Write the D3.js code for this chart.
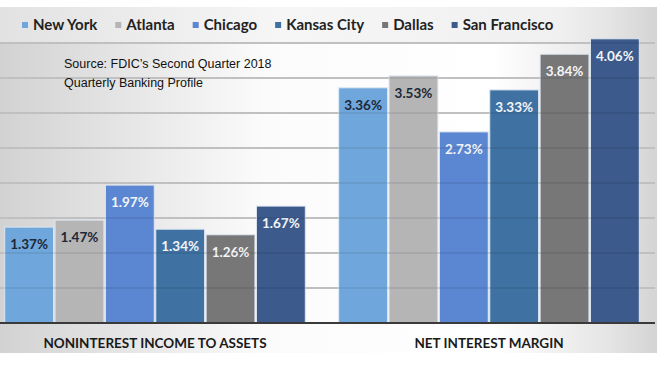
<!DOCTYPE html>
<html>
<head>
<meta charset="utf-8">
<script src="https://cdn.jsdelivr.net/npm/d3@7"></script>
<style>
  body { margin: 0; background: #fff; }
  svg { display: block; }
</style>
</head>
<body>
<div id="chart"></div>
<script>
const cities = ['New York', 'Atlanta', 'Chicago', 'Kansas City', 'Dallas', 'San Francisco'];
const groups = ['NONINTEREST INCOME TO ASSETS', 'NET INTEREST MARGIN'];
const nonInterest = [1.37, 1.47, 1.97, 1.34, 1.26, 1.67];
const netMargin = [3.36, 3.53, 2.73, 3.33, 3.84, 4.06];
const gridTicks = [0.5, 1, 1.5, 2, 2.5, 3, 3.5, 4];
const sourceLines = ['Source: FDIC\u2019s Second Quarter 2018', 'Quarterly Banking Profile'];

const colors = ['#6fa7dc', '#b5b5b5', '#5b86d1', '#3f72a2', '#777777', '#3c5a8b'];
const labelColors = ['#1c2836', '#1c2836', '#f2f4f8', '#f2f4f8', '#f2f4f8', '#f2f4f8'];

const w = 663;
const h = 365;

const svg = d3.select('#chart').append('svg').attr('width', w).attr('height', h);

// background gradient
const defs = svg.append('defs');
const bg = defs.append('linearGradient').attr('id', 'bg').attr('x1', 0).attr('x2', 1).attr('y1', 0).attr('y2', 0);
bg.append('stop').attr('offset', '0%').attr('stop-color', '#d2d2d2');
bg.append('stop').attr('offset', '40%').attr('stop-color', '#fbfbfb');
bg.append('stop').attr('offset', '75%').attr('stop-color', '#ffffff');
bg.append('stop').attr('offset', '92%').attr('stop-color', '#e6e6e6');
bg.append('stop').attr('offset', '100%').attr('stop-color', '#d4d4d4');

const lg = defs.append('linearGradient').attr('id', 'lg').attr('x1', 0).attr('x2', 1).attr('y1', 0).attr('y2', 0);
lg.append('stop').attr('offset', '0%').attr('stop-color', '#e2e2e2');
lg.append('stop').attr('offset', '50%').attr('stop-color', '#f6f6f6');
lg.append('stop').attr('offset', '100%').attr('stop-color', '#f0f0f0');

svg.append('rect').attr('x', 0).attr('y', 7).attr('width', 657).attr('height', 346).attr('fill', 'url(#bg)');
svg.append('rect').attr('x', 0).attr('y', 7).attr('width', 560).attr('height', 35).attr('fill', 'url(#lg)');

const yScale = d3.scaleLinear().domain([0, 4]).range([323, 43]);

const x0 = d3.scaleBand().domain(groups).range([-12, 656]).paddingInner(0.1).paddingOuter(0.05);
const x1 = d3.scaleBand().domain(cities).range([0, x0.bandwidth()]).paddingInner(0.03);

const data = groups.map((g, gi) => ({
    group: g,
    values: cities.map((c, i) => ({ city: c, i: i, value: gi === 0 ? nonInterest[i] : netMargin[i] }))
}));

// gridlines behind
svg.append('g')
   .selectAll('line')
   .data(gridTicks)
   .enter()
   .append('line')
   .attr('x1', 0)
   .attr('x2', 655)
   .attr('y1', d => yScale(d))
   .attr('y2', d => yScale(d))
   .attr('stroke', '#cfcfcf')
   .attr('stroke-width', 2);

const gSel = svg.selectAll('.grp')
   .data(data)
   .enter()
   .append('g')
   .attr('class', 'grp')
   .attr('transform', d => `translate(${x0(d.group)},0)`);

gSel.selectAll('rect')
    .data(d => d.values)
    .enter()
    .append('rect')
    .attr('x', d => x1(d.city))
    .attr('y', d => yScale(d.value))
    .attr('width', x1.bandwidth())
    .attr('height', d => yScale(0) - yScale(d.value))
    .attr('fill', d => colors[d.i])
    .attr('stroke', '#dde6f0')
    .attr('stroke-width', 1);

// faint gridlines seen through the bars
svg.append('g')
   .selectAll('line')
   .data(gridTicks)
   .enter()
   .append('line')
   .attr('x1', 0)
   .attr('x2', 655)
   .attr('y1', d => yScale(d))
   .attr('y2', d => yScale(d))
   .attr('stroke', 'rgba(0,0,0,0.07)')
   .attr('stroke-width', 2);

gSel.selectAll('text')
    .data(d => d.values)
    .enter()
    .append('text')
    .attr('x', d => x1(d.city) + x1.bandwidth() / 2)
    .attr('y', d => yScale(d.value) + 22)
    .attr('text-anchor', 'middle')
    .attr('font-family', 'Lato, sans-serif')
    .attr('font-weight', 'bold')
    .attr('font-size', 13.5)
    .attr('fill', d => labelColors[d.i])
    .text(d => d.value.toFixed(2) + '%');

// baseline
svg.append('line')
   .attr('x1', 0).attr('x2', 655)
   .attr('y1', yScale(0)).attr('y2', yScale(0))
   .attr('stroke', '#3a3a3a').attr('stroke-width', 2);

// category labels
svg.selectAll('.cat')
   .data(groups)
   .enter()
   .append('text')
   .attr('class', 'cat')
   .attr('x', d => x0(d) + x0.bandwidth() / 2)
   .attr('y', 348)
   .attr('text-anchor', 'middle')
   .attr('font-family', 'Lato, sans-serif')
   .attr('font-weight', 'bold')
   .attr('font-size', 13.5)
   .attr('fill', '#1a1a1a')
   .text(d => d);

// legend
const legend = svg.append('g').attr('transform', 'translate(22,25)');
let lx = 0;
cities.forEach((c, i) => {
    const item = legend.append('g').attr('transform', `translate(${lx},0)`);
    item.append('rect').attr('x', 0).attr('y', -3).attr('width', 6).attr('height', 6).attr('fill', colors[i]);
    const t = item.append('text')
        .attr('x', 11)
        .attr('y', 5)
        .attr('font-family', 'Lato, sans-serif')
        .attr('font-weight', 'bold')
        .attr('font-size', 15)
        .attr('fill', '#222')
        .text(c);
    lx += 11 + t.node().getComputedTextLength() + 18;
});

// source note
svg.append('g')
   .selectAll('text')
   .data(sourceLines)
   .enter()
   .append('text')
   .attr('x', 64)
   .attr('y', (d, i) => 68 + i * 19)
   .attr('font-family', '"Liberation Sans", Arial, sans-serif')
   .attr('font-size', 12.5)
   .attr('fill', '#111')
   .text(d => d);
</script>
</body>
</html>
